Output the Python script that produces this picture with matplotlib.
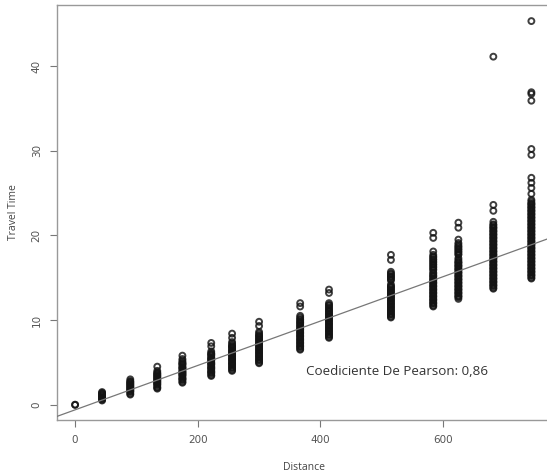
import numpy as np
import matplotlib.pyplot as plt

# distance columns and travel times
distances = [0, 44, 90, 134, 175, 222, 256, 300, 367, 414, 515, 584, 625, 682, 744]

travel_times = [
    [0.0, 0.0],
    [0.5, 0.6, 0.7, 0.8, 0.9, 1.0, 1.1, 1.2, 1.3, 1.4, 1.5],
    [1.2, 1.3, 1.5, 1.6, 1.7, 1.8, 1.9, 2.0, 2.1, 2.2, 2.3, 2.4, 2.5, 2.6, 2.7, 2.8, 3.0],
    [1.9, 2.0, 2.1, 2.3, 2.4, 2.5, 2.6, 2.7, 2.8, 2.9, 3.0, 3.1, 3.2, 3.3, 3.4, 3.5,
     3.6, 3.7, 3.8, 4.0, 4.5],
    [2.6, 2.7, 2.9, 3.0, 3.1, 3.2, 3.4, 3.5, 3.6, 3.7, 3.8, 3.9, 4.0, 4.2, 4.3, 4.4,
     4.5, 4.7, 4.8, 4.9, 5.0, 5.2, 5.4, 5.8],
    [3.4, 3.5, 3.7, 3.8, 3.9, 4.0, 4.2, 4.3, 4.4, 4.5, 4.7, 4.8, 4.9, 5.0, 5.2, 5.3,
     5.4, 5.5, 5.6, 5.8, 5.9, 6.0, 6.1, 6.3, 6.9, 7.3],
    [4.0, 4.1, 4.3, 4.4, 4.5, 4.7, 4.8, 4.9, 5.0, 5.2, 5.3, 5.4, 5.5, 5.7, 5.8, 5.9,
     6.0, 6.2, 6.3, 6.4, 6.5, 6.7, 6.8, 6.9, 7.0, 7.2, 7.4, 7.9, 8.4],
    [4.9, 5.0, 5.2, 5.3, 5.4, 5.6, 5.7, 5.8, 6.0, 6.1, 6.2, 6.4, 6.5, 6.6, 6.8, 6.9,
     7.0, 7.2, 7.3, 7.4, 7.6, 7.7, 7.8, 8.0, 8.1, 8.2, 8.4, 8.6, 9.3, 9.8],
    [6.5, 6.6, 6.8, 6.9, 7.0, 7.2, 7.3, 7.4, 7.6, 7.7, 7.8, 8.0, 8.1, 8.2, 8.4, 8.5,
     8.6, 8.8, 8.9, 9.0, 9.2, 9.3, 9.4, 9.6, 9.7, 9.8, 10.0, 10.1, 10.3, 10.5,
     11.6, 12.0],
    [7.9, 8.0, 8.2, 8.3, 8.4, 8.6, 8.7, 8.8, 9.0, 9.1, 9.2, 9.4, 9.5, 9.6, 9.8, 9.9,
     10.0, 10.2, 10.3, 10.4, 10.6, 10.7, 10.8, 11.0, 11.1, 11.2, 11.4, 11.5, 11.7,
     11.8, 12.0, 13.2, 13.6],
    [10.3, 10.4, 10.6, 10.7, 10.8, 11.0, 11.1, 11.2, 11.4, 11.5, 11.6, 11.8, 11.9,
     12.0, 12.2, 12.3, 12.4, 12.6, 12.7, 12.8, 13.0, 13.1, 13.2, 13.4, 13.5, 13.6,
     13.8, 13.9, 14.0, 14.2, 14.7, 14.8, 15.0, 15.1, 15.2, 15.4, 15.5, 15.7,
     17.1, 17.7],
    [11.6, 11.7, 11.9, 12.0, 12.1, 12.3, 12.4, 12.5, 12.7, 12.8, 12.9, 13.1, 13.2,
     13.3, 13.5, 13.6, 13.7, 13.9, 14.0, 14.1, 14.3, 14.4, 14.5, 14.7, 14.8, 14.9,
     15.1, 15.2, 15.3, 15.5, 15.6, 15.9, 16.0, 16.2, 16.3, 16.5, 16.6, 16.8, 16.9,
     17.1, 17.2, 17.4, 17.5, 17.7, 18.1, 19.7, 20.3],
    [12.5, 12.7, 12.8, 12.9, 13.1, 13.2, 13.3, 13.5, 13.6, 13.7, 13.9, 14.0, 14.1,
     14.3, 14.4, 14.5, 14.7, 14.8, 14.9, 15.1, 15.2, 15.3, 15.5, 15.6, 15.7, 15.9,
     16.0, 16.1, 16.3, 16.4, 16.5, 16.7, 16.8, 16.9, 17.1, 17.3, 17.7, 17.8, 18.0,
     18.1, 18.3, 18.4, 18.6, 18.7, 18.9, 19.1, 19.5, 20.9, 21.5],
    [13.7, 13.8, 14.0, 14.1, 14.2, 14.4, 14.5, 14.6, 14.8, 14.9, 15.0, 15.2, 15.3,
     15.4, 15.6, 15.7, 15.8, 16.0, 16.1, 16.2, 16.4, 16.5, 16.6, 16.8, 16.9, 17.0,
     17.2, 17.3, 17.4, 17.6, 17.7, 17.8, 18.0, 18.1, 18.2, 18.4, 18.5, 18.6, 18.8,
     18.9, 19.0, 19.2, 19.3, 19.4, 19.6, 19.7, 19.8, 20.0, 20.1, 20.2, 20.4, 20.5,
     20.6, 20.8, 20.9, 21.0, 21.2, 21.3, 21.6, 22.9, 23.6, 41.1],
    [14.9, 15.0, 15.2, 15.3, 15.4, 15.6, 15.7, 15.8, 16.0, 16.1, 16.2, 16.4, 16.5,
     16.6, 16.8, 16.9, 17.0, 17.2, 17.3, 17.4, 17.6, 17.7, 17.8, 18.0, 18.1, 18.2,
     18.4, 18.5, 18.6, 18.8, 18.9, 19.0, 19.2, 19.3, 19.4, 19.6, 19.7, 19.8, 20.0,
     20.1, 20.2, 20.4, 20.5, 20.6, 20.8, 20.9, 21.0, 21.2, 21.3, 21.4, 21.6, 21.7,
     21.8, 22.0, 22.1, 22.2, 22.4, 22.5, 22.6, 22.8, 22.9, 23.0, 23.2, 23.3, 23.4,
     23.6, 23.7, 23.8, 24.0, 24.2, 24.9, 25.6, 26.2, 26.8, 29.5, 30.2, 35.9, 36.7,
     36.9, 45.3],
]

# fitted line (lm)
intercept = -0.6
slope = 0.0262

x_ticks = [0, 200, 400, 600]
y_ticks = [0, 10, 20, 30, 40]
pearson_text = "Coediciente De Pearson: 0,86"

xs = np.concatenate([[d] * len(t) for d, t in zip(distances, travel_times)])
ys = np.concatenate(travel_times)

fig = plt.figure(figsize=(5.47, 4.75), dpi=100)
ax = fig.add_axes([57 / 547, (475 - 420) / 475, (551 - 57) / 547, (420 - 5) / 475])

ax.scatter(xs, ys, s=18, facecolors="none", edgecolors=(0.08, 0.08, 0.08, 0.82),
           linewidths=1.4, zorder=2)

xlim = (-29.5, 776)
line_x = np.array(xlim)
ax.plot(line_x, intercept + slope * line_x, color="#777777", linewidth=0.9, zorder=3)

ax.set_xlim(*xlim)
ax.set_ylim(-1.8, 47.2)

for side in ["left", "bottom", "top"]:
    ax.spines[side].set_color("#999999")
    ax.spines[side].set_linewidth(1.0)
ax.spines["right"].set_visible(False)

ax.set_xticks(x_ticks)
ax.set_yticks(y_ticks)
ax.tick_params(axis="both", direction="out", length=5, width=0.8, color="#777777",
               labelsize=7.5, labelcolor="#555555", pad=6)
for lab in ax.get_yticklabels():
    lab.set_rotation(90)
    lab.set_verticalalignment("center")

ax.set_xlabel("Distance", fontsize=7.5, color="#444444", family="Open Sans", labelpad=12)
ax.set_ylabel("Travel Time", fontsize=7.5, color="#444444", family="Open Sans", labelpad=9)

ax.text(525, 3.9, pearson_text, fontsize=9.6, color="#333333", family="Open Sans",
        ha="center", va="center")

fig.savefig("out.png", dpi=100)
